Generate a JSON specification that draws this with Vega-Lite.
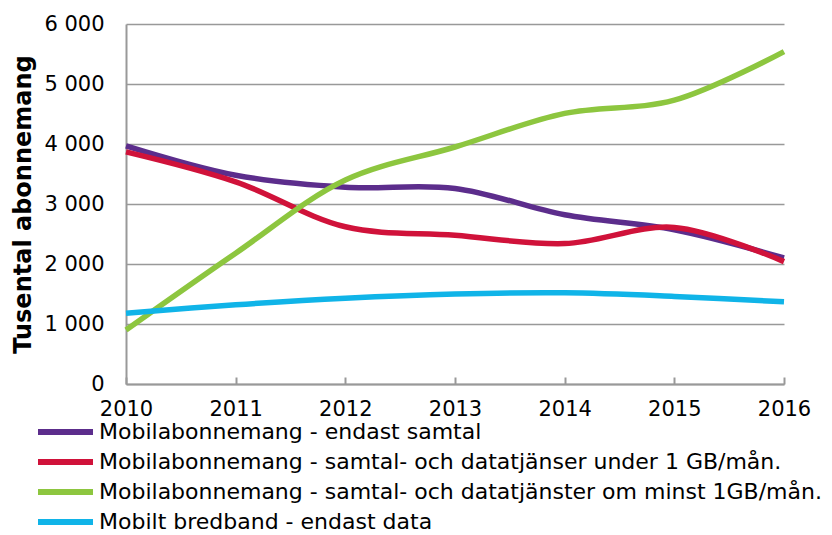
{
  "$schema": "https://vega.github.io/schema/vega-lite/v6.json",
  "width": 658,
  "height": 360,
  "autosize": "none",
  "padding": {"left": 126, "top": 24, "right": 48, "bottom": 151},
  "background": "white",
  "config": {"view": {"stroke": null}, "font": "DejaVu Sans"},
  "data": {
    "values": [
      {"year": 2010, "series": "Mobilabonnemang - endast samtal", "value": 3970},
      {"year": 2011, "series": "Mobilabonnemang - endast samtal", "value": 3480},
      {"year": 2012, "series": "Mobilabonnemang - endast samtal", "value": 3280},
      {"year": 2013, "series": "Mobilabonnemang - endast samtal", "value": 3260},
      {"year": 2014, "series": "Mobilabonnemang - endast samtal", "value": 2820},
      {"year": 2015, "series": "Mobilabonnemang - endast samtal", "value": 2570},
      {"year": 2016, "series": "Mobilabonnemang - endast samtal", "value": 2100},
      {"year": 2010, "series": "Mobilabonnemang - samtal- och datatjänser under 1 GB/mån.", "value": 3870},
      {"year": 2011, "series": "Mobilabonnemang - samtal- och datatjänser under 1 GB/mån.", "value": 3370},
      {"year": 2012, "series": "Mobilabonnemang - samtal- och datatjänser under 1 GB/mån.", "value": 2620},
      {"year": 2013, "series": "Mobilabonnemang - samtal- och datatjänser under 1 GB/mån.", "value": 2480},
      {"year": 2014, "series": "Mobilabonnemang - samtal- och datatjänser under 1 GB/mån.", "value": 2340},
      {"year": 2015, "series": "Mobilabonnemang - samtal- och datatjänser under 1 GB/mån.", "value": 2610},
      {"year": 2016, "series": "Mobilabonnemang - samtal- och datatjänser under 1 GB/mån.", "value": 2040},
      {"year": 2010, "series": "Mobilabonnemang - samtal- och datatjänster om minst 1GB/mån.", "value": 900},
      {"year": 2011, "series": "Mobilabonnemang - samtal- och datatjänster om minst 1GB/mån.", "value": 2180},
      {"year": 2012, "series": "Mobilabonnemang - samtal- och datatjänster om minst 1GB/mån.", "value": 3400},
      {"year": 2013, "series": "Mobilabonnemang - samtal- och datatjänster om minst 1GB/mån.", "value": 3950},
      {"year": 2014, "series": "Mobilabonnemang - samtal- och datatjänster om minst 1GB/mån.", "value": 4510},
      {"year": 2015, "series": "Mobilabonnemang - samtal- och datatjänster om minst 1GB/mån.", "value": 4730},
      {"year": 2016, "series": "Mobilabonnemang - samtal- och datatjänster om minst 1GB/mån.", "value": 5540},
      {"year": 2010, "series": "Mobilt bredband - endast data", "value": 1180},
      {"year": 2011, "series": "Mobilt bredband - endast data", "value": 1320},
      {"year": 2012, "series": "Mobilt bredband - endast data", "value": 1430},
      {"year": 2013, "series": "Mobilt bredband - endast data", "value": 1500},
      {"year": 2014, "series": "Mobilt bredband - endast data", "value": 1520},
      {"year": 2015, "series": "Mobilt bredband - endast data", "value": 1460},
      {"year": 2016, "series": "Mobilt bredband - endast data", "value": 1370}
    ]
  },
  "mark": {"type": "line", "interpolate": "catmull-rom", "strokeWidth": 5.5},
  "encoding": {
    "x": {
      "field": "year",
      "type": "quantitative",
      "scale": {"domain": [2010, 2016], "nice": false, "zero": false},
      "axis": {
        "title": null,
        "format": "d",
        "values": [2010, 2011, 2012, 2013, 2014, 2015, 2016],
        "grid": false,
        "domainColor": "#999999",
        "domainWidth": 2,
        "tickColor": "#999999",
        "tickWidth": 2,
        "tickSize": -7,
        "labelFontSize": 21,
        "labelColor": "#000000",
        "labelPadding": 21,
        "labelFlush": false
      }
    },
    "y": {
      "field": "value",
      "type": "quantitative",
      "scale": {"domain": [0, 6000], "nice": false},
      "axis": {
        "title": "Tusental abonnemang",
        "titleFontSize": 24,
        "titleFontWeight": "bold",
        "titleColor": "#000000",
        "titlePadding": 8,
        "values": [0, 1000, 2000, 3000, 4000, 5000, 6000],
        "labelExpr": "replace(format(datum.value, ','), ',', ' ')",
        "ticks": false,
        "labelPadding": 22,
        "labelFontSize": 21,
        "labelColor": "#000000",
        "grid": true,
        "gridColor": "#999999",
        "gridWidth": 1.5,
        "domainColor": "#999999",
        "domainWidth": 2
      }
    },
    "color": {
      "field": "series",
      "type": "nominal",
      "sort": [
        "Mobilabonnemang - endast samtal",
        "Mobilabonnemang - samtal- och datatjänser under 1 GB/mån.",
        "Mobilabonnemang - samtal- och datatjänster om minst 1GB/mån.",
        "Mobilt bredband - endast data"
      ],
      "scale": {
        "domain": [
          "Mobilabonnemang - endast samtal",
          "Mobilabonnemang - samtal- och datatjänser under 1 GB/mån.",
          "Mobilabonnemang - samtal- och datatjänster om minst 1GB/mån.",
          "Mobilt bredband - endast data"
        ],
        "range": ["#5c2d8c", "#d0123a", "#8dc63f", "#10b4e8"]
      },
      "legend": {
        "title": null,
        "orient": "none",
        "legendX": -91,
        "legendY": 393,
        "direction": "vertical",
        "columns": 1,
        "symbolType": "stroke",
        "symbolSize": 3025,
        "symbolStrokeWidth": 6,
        "clipHeight": 30,
        "labelFontSize": 22,
        "labelColor": "#000000",
        "rowPadding": 0,
        "labelOffset": 3,
        "labelLimit": 0
      }
    }
  }
}
